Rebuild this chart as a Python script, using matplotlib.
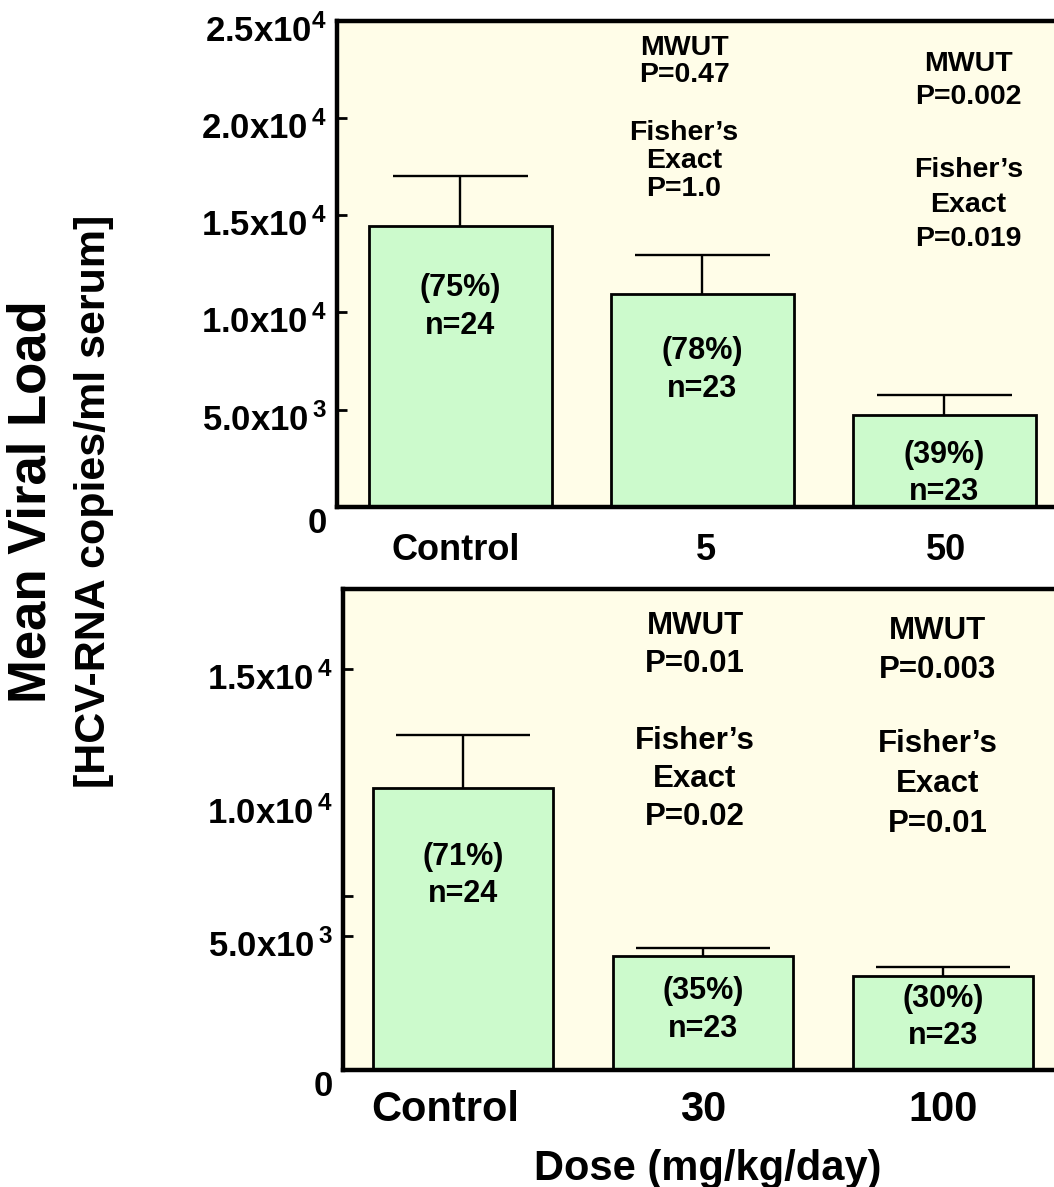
import numpy as np
import matplotlib.pyplot as plt
from matplotlib.transforms import ScaledTranslation

plt.rcParams['font.family'] = ['Liberation Sans', 'DejaVu Sans']
plt.rcParams['font.weight'] = 'bold'
plt.rcParams['mathtext.fontset'] = 'custom'
plt.rcParams['mathtext.bf'] = 'Liberation Sans:bold'
plt.rcParams['mathtext.rm'] = 'Liberation Sans:bold'
plt.rcParams['mathtext.default'] = 'bf'

# first study: 5 and 50 mg/kg/day
groups_a = ['Control', '5', '50']
mean_a = [14450, 10950, 4750]
sem_a = [2550, 2000, 1020]
pct_a = ['(75%)', '(78%)', '(39%)']
n_a = [24, 23, 23]
mwut_a = ['0.47', '0.002']
fisher_a = ['1.0', '0.019']
yticks_a = [0, 5000, 10000, 15000, 20000, 25000]
ytick_labels_a = ['0', r'$5.0x10^{\,3}$', r'$1.0x10^{\,4}$', r'$1.5x10^{\,4}$',
                  r'$2.0x10^{\,4}$', r'$2.5x10^{4}$']

# second study: 30 and 100 mg/kg/day
groups_b = ['Control', '30', '100']
mean_b = [10550, 4280, 3500]
sem_b = [1990, 290, 350]
pct_b = ['(71%)', '(35%)', '(30%)']
n_b = [24, 23, 23]
mwut_b = ['0.01', '0.003']
fisher_b = ['0.02', '0.01']
yticks_b = [0, 5000, 10000, 15000]
ytick_labels_b = ['0', r'$5.0x10^{\,3}$', r'$1.0x10^{\,4}$', r'$1.5x10^{\,4}$']

BG = '#FFFDE8'
BAR = '#CCFACC'


def draw_panel(ax, groups, mean, sem, pct, n, label_y, width, ymax,
               yticks, yticklabels, xlab_size, xlab_pad, xlab_dx):
    x = np.arange(len(groups))
    mean = np.array(mean)
    top = mean + np.array(sem)
    ax.set_facecolor(BG)
    ax.vlines(x, mean, top, color='black', lw=1.7, zorder=1)
    ax.hlines(top, x - 0.28, x + 0.28, color='black', lw=1.7, zorder=1)
    ax.bar(x, mean, width=width, color=BAR, edgecolor='black', linewidth=2.0, zorder=2)
    for xi, p, ni, yi in zip(x, pct, n, label_y):
        ax.text(xi, yi, f'{p}\nn={ni}', ha='center', va='center',
                fontsize=22, linespacing=1.32, zorder=4)

    ax.set_ylim(0, ymax)
    ax.set_xticks(x + np.array(xlab_dx), groups)
    ax.tick_params(axis='x', length=0, pad=xlab_pad, labelsize=xlab_size)
    ax.set_yticks(yticks, yticklabels)
    ax.tick_params(axis='y', which='both', direction='in', length=7, width=2,
                   pad=7, labelsize=25)
    labels = ax.get_yticklabels()
    labels[0].set_verticalalignment('top')
    shift = ScaledTranslation(0, -0.07, ax.figure.dpi_scale_trans)
    for lab in labels[1:]:
        lab.set_transform(lab.get_transform() + shift)
    for side in ['top', 'left', 'bottom', 'right']:
        ax.spines[side].set_linewidth(3.2)


fig = plt.figure(figsize=(10.54, 11.87), dpi=100)

ax1 = fig.add_axes([0.3197, 0.5729, 0.6935, 0.4097])
ax1.set_xlim(-0.51, 2.51)
draw_panel(ax1, groups_a, mean_a, sem_a, pct_a, n_a, [10280, 7040, 1710], 0.756,
           25000, yticks_a, ytick_labels_a, 26, 19, [-0.02, 0.015, 0.005])
ax1.text(0.924, 22900, f'MWUT\nP={mwut_a[0]}', ha='center', va='center',
         fontsize=20.5, linespacing=1.04)
ax1.text(0.924, 17780, f'Fisher’s\nExact\nP={fisher_a[0]}', ha='center', va='center',
         fontsize=20.5, linespacing=1.09)
ax1.text(2.099, 21930, f'MWUT\nP={mwut_a[1]}', ha='center', va='center',
         fontsize=20.5, linespacing=1.37)
ax1.text(2.099, 15530, f'Fisher’s\nExact\nP={fisher_a[1]}', ha='center', va='center',
         fontsize=20.5, linespacing=1.43)

ax2 = fig.add_axes([0.3254, 0.0986, 0.6831, 0.405])
ax2.set_xlim(-0.5, 2.5)
draw_panel(ax2, groups_b, mean_b, sem_b, pct_b, n_b, [7280, 2240, 1960], 0.75,
           18000, yticks_b, ytick_labels_b, 30, 14.5, [-0.075, 0.0, 0.0])
ax2.set_yticks([6500], minor=True)
ax2.yaxis.get_major_ticks()[2].tick1line.set_visible(False)
ax2.text(0.967, 15900, f'MWUT\nP={mwut_b[0]}', ha='center', va='center',
         fontsize=22.5, linespacing=1.36)
ax2.text(0.967, 10900, f'Fisher’s\nExact\nP={fisher_b[0]}', ha='center', va='center',
         fontsize=22.5, linespacing=1.36)
ax2.text(1.979, 15710, f'MWUT\nP={mwut_b[1]}', ha='center', va='center',
         fontsize=22.5, linespacing=1.36)
ax2.text(1.979, 10710, f'Fisher’s\nExact\nP={fisher_b[1]}', ha='center', va='center',
         fontsize=22.5, linespacing=1.45)

fig.text(32 / 1054, 1 - 502 / 1187, 'Mean Viral Load', rotation=90,
         fontsize=38, ha='center', va='center')
fig.text(94 / 1054, 1 - 501 / 1187, '[HCV-RNA copies/ml serum]', rotation=90,
         fontsize=31, ha='center', va='center')
fig.text(708 / 1054, 1 - 1180 / 1187, 'Dose (mg/kg/day)', fontsize=30,
         ha='center', va='baseline')

fig.savefig('out.png', dpi=100)
